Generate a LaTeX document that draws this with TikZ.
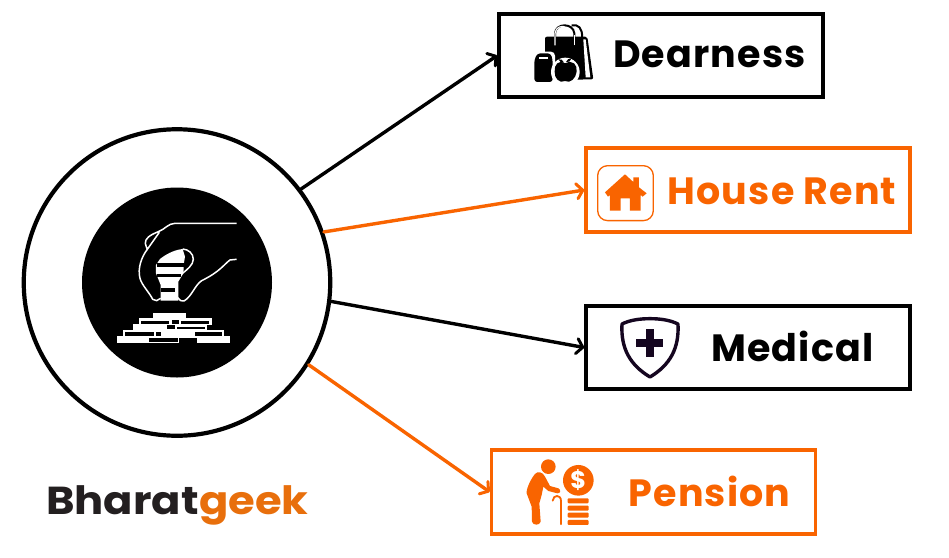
\documentclass[tikz,border=0pt]{standalone}
\usepackage{fontspec}
\setmainfont{Poppins}[LetterSpace=3]
\newfontfamily\logofont{Poppins}[FakeStretch=1.11]
\usetikzlibrary{arrows.meta}
\definecolor{org}{HTML}{F96400}
\definecolor{logoorg}{HTML}{E86F0C}
\definecolor{logoblk}{HTML}{231F20}
\definecolor{shieldc}{HTML}{150620}
\tikzset{
  x=1pt,y=-1pt,
  boxblack/.style={draw=black,line width=4pt,fill=white,minimum width=#1,minimum height=83.5pt,inner sep=0pt},
  boxorg/.style={draw=org,line width=3.5pt,fill=white,minimum width=#1,minimum height=84pt,inner sep=0pt},
  lbl/.style={anchor=base west,inner sep=0pt,font=\bfseries\fontsize{38}{38}\selectfont},
  logotxt/.style={anchor=base west,inner sep=0pt,font=\logofont\bfseries\fontsize{39}{39}\selectfont},
  conn/.style={line width=3.4pt,line cap=round,-{Straight Barb[round,length=6pt,width=15pt,line width=3pt]}},
  zoomA/.style={shift={(60,170)},x=.3333pt,y=-.3333pt},
  zoomB/.style={shift={(490,0)},x=.3333pt,y=-.3333pt},
  zoomC/.style={shift={(480,295)},x=.3333pt,y=-.3333pt},
}
\begin{document}
\begin{tikzpicture}
\useasboundingbox (0,0) rectangle (949,557);
\fill[white] (0,0) rectangle (949,557);
% hub
\node[circle,draw=black,line width=4.2pt,fill=white,minimum size=306.5pt,inner sep=0pt] (hub) at (177,282.5) {};
\node[circle,fill=black,minimum size=190pt,inner sep=0pt] (core) at (177,282.5) {};
% boxes
\node[boxblack=323.5pt] (dear) at (661,55.5) {};
\node[boxorg=324pt] (house) at (748,190) {};
\node[boxorg=324pt] (pension) at (653.5,492) {};
\node[boxblack=323.5pt] (medical) at (748,347.5) {};
% labels
\node[lbl,text=black] (tdear) at (613,67) {Dearness};
\node[lbl,text=org] (thouse) at (667.5,204) {House Rent};
\node[lbl,text=black] (tmed) at (711,361) {Medical};
\node[lbl,text=org] (tpen) at (628.5,506) {Pension};
\node[logotxt,text=logoblk] (logoa) at (46,514) {Bharat};
\node[logotxt,text=logoorg] (logob) at (logoa.base east) {geek};
% connectors
\draw[conn,black] (hub.37.7) -- (dear.west);
\draw[conn,org] (hub.19) -- (house.west);
\draw[conn,black] (hub.-7.4) -- (medical.west);
\draw[conn,org] (hub.-32.7) -- (pension.west);
% hand icon
\begin{scope}[zoomA]
\fill[white] (288,285) -- (300,267) .. controls (315,255) and (340,240) .. (368,237) -- (375,260) -- (372,278) -- (370,310) -- (355,335) -- (355,392) -- (302,392) -- (302,345) -- (288,310) -- cycle;
\draw[white,line width=1.5pt] (368,237) .. controls (385,238) and (400,250) .. (400,268) .. controls (400,285) and (380,300) .. (365,312);
\fill[black] (292,279) rectangle (372,292);
\fill[black] (290,312) rectangle (362,321);
\fill[black] (304,355) rectangle (345,367);
\draw[white,line width=1.5pt,line join=round] (530,160) -- (345,160) .. controls (325,160) and (315,178) .. (295,185) .. controls (270,195) and (255,205) .. (256,220) .. controls (257,230) and (262,235) .. (262,238) -- (298,187);
\draw[white,line width=1.5pt,line join=round] (262,238) .. controls (245,260) and (232,295) .. (240,325) .. controls (245,345) and (270,370) .. (278,388) -- (290,392) -- (302,385);
\draw[white,line width=1.5pt,line join=round] (530,268) -- (510,270) .. controls (490,285) and (480,305) .. (425,332) .. controls (405,345) and (395,380) .. (372,393) -- (362,392) -- (352,382);
% coins
\fill[white] (278,428) rectangle (378,446);
\fill[white] (237,445) rectangle (455,466);
\fill[white] (220,463) rectangle (440,484);
\fill[white] (190,481) rectangle (492,500);
\fill[white] (170,498) rectangle (510,520);
\fill[black] (243,452) rectangle (328,462);
\fill[black] (362,452) rectangle (448,462);
\fill[black] (335,450) rectangle (356,462);
\fill[black] (320,466) rectangle (345,478);
\fill[black] (350,470) rectangle (435,478);
\fill[black] (195,487) rectangle (282,497);
\fill[black] (288,487) rectangle (302,497);
\fill[black] (405,487) rectangle (487,497);
\fill[black] (268,505) rectangle (355,515);
\fill[black] (358,503) rectangle (410,520);
\end{scope}
% bag icon
\begin{scope}[zoomB]
\draw[black,line width=2pt] (195,125) -- (195,100) .. controls (197,68) and (250,68) .. (253,100) -- (253,125);
\draw[black,line width=2pt] (245,76) .. controls (265,72) and (278,85) .. (276,112);
\fill[black,rounded corners=2pt] (165,110) -- (292,110) -- (310,238) -- (190,240) -- (165,160) -- cycle;
\fill[white] (280,118) -- (287,118) -- (301,232) -- (287,232) -- cycle;
\draw[white,line width=1.2pt] (195,136) -- (195,100) .. controls (197,80) and (215,78) .. (224,80);
\draw[white,line width=1.2pt] (253,136) -- (253,105);
\fill[white,rounded corners=4pt] (126,155) rectangle (195,252);
\fill[black,rounded corners=3pt] (142,160) -- (182,160) -- (188,180) -- (188,246) -- (133,246) -- (133,180) -- cycle;
\fill[white] (148,170) rectangle (175,176);
\fill[white] (226,216) circle [radius=43];
\fill[black] (225,190) .. controls (250,178) and (262,195) .. (260,215) .. controls (258,235) and (240,252) .. (225,243) .. controls (210,252) and (192,235) .. (194,215) .. controls (192,195) and (205,178) .. (225,190) -- cycle;
\fill[black] (228,186) .. controls (230,178) and (238,175) .. (244,176) .. controls (242,184) and (236,188) .. (228,186) -- cycle;
\fill[black] (205,178) .. controls (212,176) and (220,180) .. (222,188) .. controls (214,188) and (208,185) .. (205,178) -- cycle;
\end{scope}
% house icon
\begin{scope}[zoomB]
\draw[org,line width=1.3pt,rounded corners=10pt] (323,497) rectangle (490,662);
\fill[org,line join=round] (345,577) -- (405,523) -- (430,546) -- (430,532) -- (447,532) -- (447,562) -- (470,580) -- (458,590) -- (452,585) -- (452,632) -- (420,632) -- (420,595) -- (392,595) -- (392,632) -- (360,632) -- (360,585) -- (354,590) -- cycle;
\end{scope}
% shield icon
\begin{scope}[zoomC]
\draw[shieldc,line width=3.4pt,line join=round] (510,71) .. controls (480,71) and (450,75) .. (426,87) .. controls (422,160) and (450,210) .. (510,246) .. controls (570,210) and (598,160) .. (594,87) .. controls (570,75) and (540,71) .. (510,71) -- cycle;
\fill[shieldc] (498,103) rectangle (521,185);
\fill[shieldc] (468,133) rectangle (550,155);
\end{scope}
% pension icon
\begin{scope}[zoomC]
\fill[org] (205,515) circle [radius=22];
\fill[org,line join=round] (165,537) .. controls (172,528) and (188,530) .. (195,545) -- (210,573) -- (235,580) .. controls (243,585) and (243,595) .. (232,595) -- (205,588) -- (190,575) -- (185,600) -- (178,625) -- (182,680) .. controls (180,692) and (158,692) .. (156,680) -- (155,635) -- (140,595) .. controls (138,585) and (150,555) .. (165,537) -- cycle;
\draw[org,line width=1.8pt,line cap=round] (218,617) .. controls (220,598) and (243,598) .. (243,618) -- (243,688);
\fill[org] (295,556) circle [radius=46];
\node[inner sep=0pt,text=white,font=\bfseries\fontsize{24}{24}\selectfont] (dollar) at (295,556) {\$};
\foreach \yy in {610,632,653,675} \fill[org,rounded corners=1pt] (263,\yy) rectangle ++(63,15);
\end{scope}
\end{tikzpicture}
\end{document}
